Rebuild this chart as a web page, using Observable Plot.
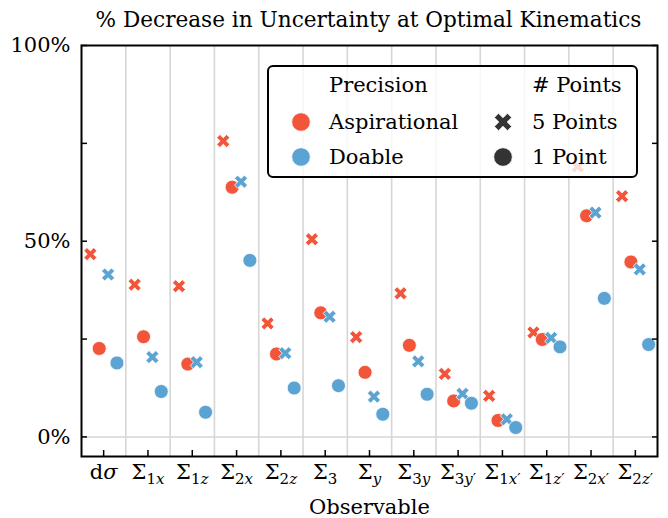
<!DOCTYPE html>
<html><head><meta charset="utf-8">
<script src="https://cdn.jsdelivr.net/npm/d3@7"></script>
<script src="https://cdn.jsdelivr.net/npm/@observablehq/plot@0.6"></script>
<style>
body{margin:0;background:#fff;}
#wrap{position:relative;width:668px;height:518px;font-family:"DejaVu Serif";color:#000;overflow:hidden;}
#title{position:absolute;left:80px;top:4px;width:577px;text-align:center;font-size:21.6px;line-height:32px;white-space:nowrap;}
#chart{position:absolute;left:0;top:32px;}
#legend{position:absolute;left:267px;top:65px;width:371px;height:113px;box-sizing:border-box;border:2px solid #000;border-radius:6px;background:rgba(255,255,255,0.8);}
#legend .t{position:absolute;font-size:21px;line-height:30px;white-space:nowrap;}
#legend svg{position:absolute;overflow:visible;}
</style></head><body>
<div id="wrap">
<div id="title">% Decrease in Uncertainty at Optimal Kinematics</div>
<div id="chart"></div>
<div id="legend"></div>
</div>
<script>
// ---- data ----
const categories = ["dσ","Σ_1x","Σ_1z","Σ_2x","Σ_2z","Σ_3","Σ_y","Σ_3y","Σ_3y′","Σ_1x′","Σ_1z′","Σ_2x′","Σ_2z′"];
const aspirational5 = [46.7,38.9,38.5,75.6,29.0,50.5,25.5,36.7,16.1,10.5,26.7,69.1,61.5];
const aspirational1 = [22.6,25.6,18.6,63.8,21.2,31.7,16.5,23.4,9.2,4.2,24.9,56.5,44.7];
const doable5 = [41.5,20.4,19.1,65.2,21.4,30.7,10.3,19.3,11.0,4.5,25.3,57.3,42.8];
const doable1 = [18.9,11.6,6.3,45.1,12.5,13.1,5.8,10.9,8.6,2.4,23.0,35.4,23.6];
const yTicks = [0,25,50,75,100];
const yLabeled = [0,50,100];
const precisionLabels = ["Aspirational","Doable"];
const pointsLabels = ["5 Points","1 Point"];

const red = "#f2553a", blue = "#5ba3d3", dark = "#333333";
const FONT = '"DejaVu Serif"';

const xSymbol = {draw(ctx, size){
  const r = Math.sqrt(size/Math.PI);
  const a = r*1.0, t = r*0.32, c = Math.SQRT1_2;
  const pts = [[-t,-a],[t,-a],[t,-t],[a,-t],[a,t],[t,t],[t,a],[-t,a],[-t,t],[-a,t],[-a,-t],[-t,-t]];
  pts.forEach(([x,y],k)=>{const X=(x-y)*c, Y=(x+y)*c; if(k) ctx.lineTo(X,Y); else ctx.moveTo(X,Y);});
  ctx.closePath();
}};

const n = categories.length;
const idx = d3.range(n);
const bounds = d3.range(1, n).map(i => i - 0.5);
const series = [
  {values: aspirational5, color: red, symbol: xSymbol, off: -0.3},
  {values: aspirational1, color: red, symbol: "circle", off: -0.1},
  {values: doable5, color: blue, symbol: xSymbol, off: 0.1},
  {values: doable1, color: blue, symbol: "circle", off: 0.3}
];

const chart = Plot.plot({
  width: 668, height: 486,
  marginTop: 13, marginBottom: 62, marginLeft: 81, marginRight: 11,
  style: {fontFamily: FONT, color: "#000", background: "transparent", overflow: "visible"},
  x: {domain: [-0.5, n - 0.5], axis: null},
  y: {domain: [-5, 100], axis: null},
  marks: [
    Plot.ruleX(bounds, {stroke: "#d6d6d6", strokeWidth: 1.6}),
    Plot.ruleY([0], {stroke: "#d6d6d6", strokeWidth: 1.6}),
    ...series.map(s => Plot.dot(idx, {
      x: i => i + s.off, y: i => s.values[i], r: 7, symbol: s.symbol,
      fill: s.color, stroke: "white", strokeWidth: 0.8
    })),
    Plot.axisX(idx, {anchor: "bottom", tickSize: -6, tickPadding: 14, strokeWidth: 1.5,
      tickFormat: i => categories[i], fontSize: 21, label: null}),
    Plot.axisY(yTicks, {anchor: "left", tickSize: -6, tickPadding: 17, strokeWidth: 1.5,
      tickFormat: d => yLabeled.includes(d) ? d + "%" : "", fontSize: 21, label: null}),
    Plot.axisY(yTicks, {anchor: "right", tickSize: -6, strokeWidth: 1.5, tickFormat: () => "", label: null}),
    Plot.text(["Observable"], {frameAnchor: "bottom", dy: 57, fontSize: 21}),
    Plot.frame({stroke: "#000", strokeWidth: 2})
  ]
});
document.getElementById("chart").appendChild(chart);

// math-style tick labels with subscripts
const NS = "http://www.w3.org/2000/svg";
chart.querySelectorAll('g[aria-label="x-axis tick label"] text').forEach(t => {
  const s = t.textContent;
  const [base, sub] = s.split("_");
  t.textContent = "";
  for (const ch of base) {
    const ts = document.createElementNS(NS, "tspan");
    if (ch === "σ") ts.setAttribute("font-style", "italic");
    ts.textContent = ch;
    t.appendChild(ts);
  }
  if (sub) {
    const st = document.createElementNS(NS, "tspan");
    st.setAttribute("font-size", "15");
    st.setAttribute("dy", "5");
    for (const ch of sub) {
      const ts = document.createElementNS(NS, "tspan");
      if (/[a-z]/.test(ch)) ts.setAttribute("font-style", "italic");
      ts.textContent = ch;
      st.appendChild(ts);
    }
    t.appendChild(st);
  }
});

// legend
const lg = document.getElementById("legend");
function addText(txt, left, cy){const d=document.createElement("div");d.className="t";d.textContent=txt;d.style.left=left+"px";d.style.top=(cy-15)+"px";lg.appendChild(d);}
function addMarker(kind, color, cx, cy){
  const svg = d3.create("svg").attr("width", 20).attr("height", 20)
    .style("left", (cx-10)+"px").style("top", (cy-10)+"px");
  const sym = d3.symbol(kind === "x" ? xSymbol : d3.symbolCircle, Math.PI*9.3*9.3);
  svg.append("path").attr("transform","translate(10,10)").attr("d", sym()).attr("fill", color).attr("stroke","white").attr("stroke-width",0.8);
  lg.appendChild(svg.node());
}
addText("Precision", 60, 18);
addText(precisionLabels[0], 60, 54.5);
addText(precisionLabels[1], 60, 90);
addMarker("o", red, 32, 54.5);
addMarker("o", blue, 32, 90);
addText("# Points", 263, 18);
addText(pointsLabels[0], 263, 54.5);
addText(pointsLabels[1], 263, 90);
addMarker("x", dark, 233.5, 54.5);
addMarker("o", dark, 233.5, 90);
</script>
</body></html>
